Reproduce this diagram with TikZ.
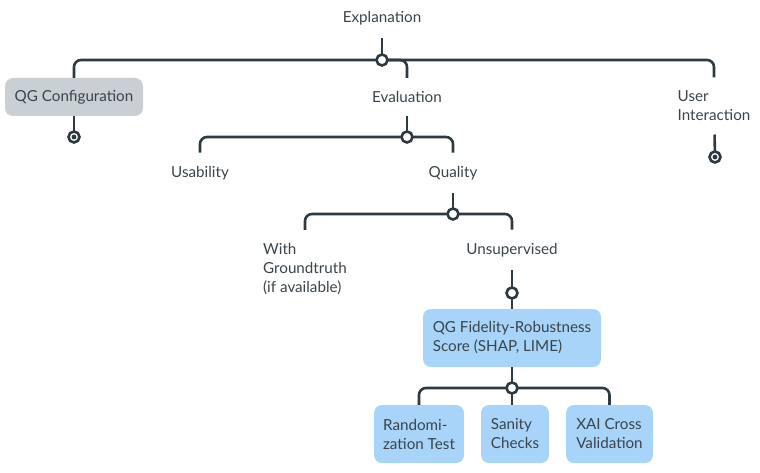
\documentclass[tikz,border=0pt]{standalone}
\usepackage{fontspec}
\setmainfont{Lato}
\usetikzlibrary{positioning}
\definecolor{linecol}{HTML}{2E3A41}
\definecolor{txtcol}{HTML}{3A444A}
\definecolor{greybox}{HTML}{C9CFD2}
\definecolor{bluebox}{HTML}{A8D4FA}
\tikzset{
  topic/.style={text=txtcol, font=\fontsize{15.2}{19}\selectfont, inner xsep=2pt, inner ysep=13.3pt, align=left},
  box/.style={topic, rounded corners=8pt, inner xsep=8pt, inner ysep=4pt},
  greyish/.style={box, fill=greybox},
  bluish/.style={box, fill=bluebox},
  conn/.style={draw=linecol, line width=2.6pt, rounded corners=7pt},
  junction/.style={circle, draw=linecol, line width=2.6pt, fill=white, inner sep=0pt, minimum size=11pt},
  leaf/.style={junction, path picture={\fill[linecol] (path picture bounding box.center) circle (2.4pt);}}
}
\begin{document}
\begin{tikzpicture}[x=1pt, y=-1pt]
  \useasboundingbox (0,0) rectangle (760,473);
  % topics
  \node[topic] (expl) at (382,18) {Explanation};
  \node[greyish, minimum width=138pt, minimum height=38pt] (qgconf) at (74,97) {QG Configuration};
  \node[topic] (eval) at (407,97) {Evaluation};
  \node[topic] (user) at (714,106) {User\\Interaction};
  \node[topic] (usab) at (200,173) {Usability};
  \node[topic] (qual) at (453,173) {Quality};
  \node[topic] (ground) at (305,269) {With\\Groundtruth\\(if available)};
  \node[topic] (unsup) at (512,250) {Unsupervised};
  \node[bluish, minimum width=178pt, minimum height=58pt] (fid) at (512,338) {QG Fidelity-Robustness\\Score (SHAP, LIME)};
  \node[bluish, minimum width=90pt, minimum height=58pt] (rand) at (419,434) {Randomi-\\zation Test};
  \node[bluish, minimum width=68pt, minimum height=58pt] (sanity) at (515,434) {Sanity\\Checks};
  \node[bluish, minimum width=87pt, minimum height=58pt] (xai) at (609.5,434) {XAI Cross\\Validation};
  % junctions
  \coordinate (jroot) at (382,60);
  \coordinate (jeval) at (407,137);
  \coordinate (jqual) at (453,214);
  \coordinate (junsup) at (512,293);
  \coordinate (jfid) at (512,388);
  % connectors
  \draw[conn] (jroot) -| (qgconf.north);
  \draw[conn] (jroot) -| (eval.north);
  \draw[conn] (jroot) -| (user.north);
  \draw[conn] (expl) -- (jroot);
  \draw[conn] (qgconf) -- (74,137);
  \draw[conn] (eval) -- (jeval);
  \draw[conn] (jeval) -| (usab.north);
  \draw[conn] (jeval) -| (qual.north);
  \draw[conn] (user) -- (715,157);
  \draw[conn] (qual) -- (jqual);
  \draw[conn] (jqual) -| (ground.north);
  \draw[conn] (jqual) -| (unsup.north);
  \draw[conn] (unsup) -- (fid);
  \draw[conn] (fid) -- (jfid);
  \draw[conn] (jfid) -| (rand.north);
  \draw[conn] (jfid) -- (jfid |- sanity.north);
  \draw[conn] (jfid) -| (xai.north);
  % circles
  \node[junction] (croot) at (jroot) {};
  \node[junction] (ceval) at (jeval) {};
  \node[junction] (cqual) at (jqual) {};
  \node[junction] (cunsup) at (junsup) {};
  \node[junction] (cfid) at (jfid) {};
  \node[leaf] (qgleaf) at (74,137) {};
  \node[leaf] (userleaf) at (715,157) {};
\end{tikzpicture}
\end{document}
